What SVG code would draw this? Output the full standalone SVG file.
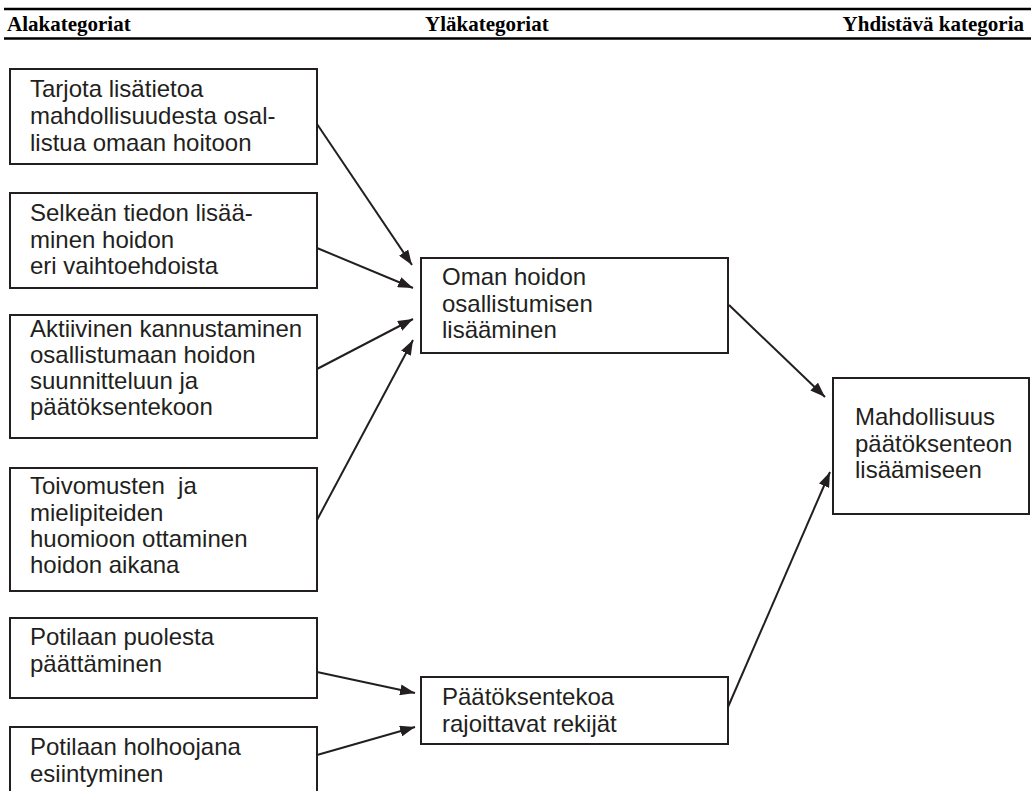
<svg xmlns="http://www.w3.org/2000/svg" width="1031" height="791" viewBox="0 0 1031 791">
<defs>
<style>
.box{fill:#ffffff;stroke:#231f20;stroke-width:2}
.t{font-family:"Liberation Sans",Arial,sans-serif;font-size:24px;fill:#231f20}
.h{font-family:"Liberation Serif","Times New Roman",serif;font-size:21px;font-weight:bold;fill:#000}
.rule{stroke:#000;stroke-width:2.5}
.c{stroke:#231f20;stroke-width:2;fill:none;marker-end:url(#ah)}
</style>
<marker id="ah" viewBox="0 0 15 11" refX="15" refY="5.5" markerWidth="15" markerHeight="11" markerUnits="userSpaceOnUse" orient="auto">
<path d="M0,0 L15,5.5 L0,11 z" fill="#231f20"/>
</marker>
</defs>
<rect width="1031" height="791" fill="#ffffff"/>
<g id="header">
<line class="rule" x1="4" y1="9" x2="1031" y2="9"/>
<line class="rule" x1="4" y1="38.5" x2="1031" y2="38.5"/>
<text class="h" x="7" y="31">Alakategoriat</text>
<text class="h" x="425" y="31">Yläkategoriat</text>
<text class="h" x="1024" y="31" text-anchor="end">Yhdistävä kategoria</text>
</g>
<g id="n1"><rect class="box" x="10" y="69" width="307" height="95"/>
<text class="t"><tspan x="30" y="97">Tarjota lisätietoa</tspan><tspan x="30" y="124">mahdollisuudesta osal-</tspan><tspan x="30" y="151">listua omaan hoitoon</tspan></text></g>
<g id="n2"><rect class="box" x="10" y="193" width="307" height="95"/>
<text class="t"><tspan x="30" y="221">Selkeän tiedon lisää-</tspan><tspan x="30" y="248">minen hoidon</tspan><tspan x="30" y="274">eri vaihtoehdoista</tspan></text></g>
<g id="n3"><rect class="box" x="10" y="315" width="307" height="123"/>
<text class="t"><tspan x="30" y="337">Aktiivinen kannustaminen</tspan><tspan x="30" y="363">osallistumaan hoidon</tspan><tspan x="30" y="389">suunnitteluun ja</tspan><tspan x="30" y="415">päätöksentekoon</tspan></text></g>
<g id="n4"><rect class="box" x="10" y="468" width="307" height="123"/>
<text class="t" xml:space="preserve"><tspan x="30" y="494">Toivomusten  ja</tspan><tspan x="30" y="521">mielipiteiden</tspan><tspan x="30" y="547">huomioon ottaminen</tspan><tspan x="30" y="573">hoidon aikana</tspan></text></g>
<g id="n5"><rect class="box" x="10" y="618" width="307" height="80"/>
<text class="t"><tspan x="30" y="645">Potilaan puolesta</tspan><tspan x="30" y="672">päättäminen</tspan></text></g>
<g id="n6"><rect class="box" x="10" y="727" width="307" height="90"/>
<text class="t"><tspan x="30" y="755">Potilaan holhoojana</tspan><tspan x="30" y="782">esiintyminen</tspan></text></g>
<g id="nA"><rect class="box" x="421" y="258" width="307" height="95"/>
<text class="t"><tspan x="442" y="285">Oman hoidon</tspan><tspan x="442" y="312">osallistumisen</tspan><tspan x="442" y="338">lisääminen</tspan></text></g>
<g id="nB"><rect class="box" x="421" y="677" width="307" height="67"/>
<text class="t"><tspan x="442" y="705">Päätöksentekoa</tspan><tspan x="442" y="732">rajoittavat rekijät</tspan></text></g>
<g id="nC"><rect class="box" x="833" y="378" width="196" height="136"/>
<text class="t"><tspan x="855" y="425">Mahdollisuus</tspan><tspan x="855" y="452">päätöksenteon</tspan><tspan x="855" y="478">lisäämiseen</tspan></text></g>
<g id="connectors">
<line class="c" x1="317" y1="124" x2="412" y2="265"/>
<line class="c" x1="317" y1="248" x2="413" y2="288"/>
<line class="c" x1="317" y1="369" x2="413" y2="319"/>
<line class="c" x1="317" y1="520" x2="413" y2="340"/>
<line class="c" x1="317" y1="672" x2="415" y2="693"/>
<line class="c" x1="317" y1="755" x2="415" y2="727"/>
<line class="c" x1="729" y1="305" x2="825" y2="397"/>
<line class="c" x1="728" y1="707" x2="830" y2="472"/>
</g>
</svg>
